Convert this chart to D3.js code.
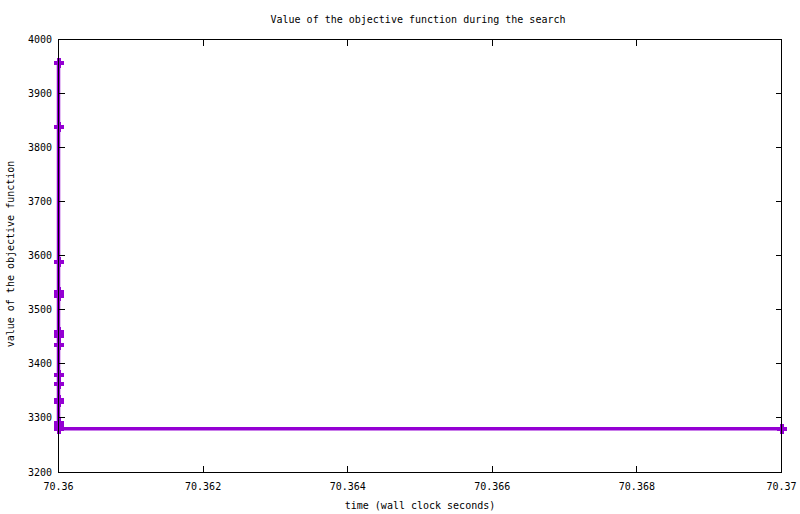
<!DOCTYPE html>
<html>
<head>
<meta charset="utf-8">
<script src="https://cdn.jsdelivr.net/npm/d3@7"></script>
<style>
  body { margin: 0; background: #fff; }
  text { font-family: "DejaVu Sans Mono", monospace; font-size: 10px; fill: #000; }
</style>
</head>
<body>
<div id="chart"></div>
<script>
// objective value over wall-clock time
var times = [70.36, 70.36, 70.36, 70.36, 70.36, 70.36, 70.36, 70.36,
             70.36, 70.36, 70.36, 70.36, 70.36, 70.36, 70.36, 70.37];
var values = [3957, 3839, 3588, 3533, 3525, 3459, 3452, 3435,
              3380, 3363, 3334, 3329, 3290, 3283, 3280, 3280];
var xTicks = [70.36, 70.362, 70.364, 70.366, 70.368, 70.37];
var yTicks = [3200, 3300, 3400, 3500, 3600, 3700, 3800, 3900, 4000];

const width = 800;
const height = 514;
const margin = { top: 39.5, right: 18.5, bottom: 42, left: 58.5 };
const color = "#9400d3";

const svg = d3.select("#chart")
  .append("svg")
  .attr("width", width)
  .attr("height", height);

var x = d3.scaleLinear()
  .domain([70.36, 70.37])
  .range([margin.left, width - margin.right]);

var y = d3.scaleLinear()
  .domain([3200, 4000])
  .range([height - margin.bottom, margin.top]);

const data = times.map((t, i) => ({ t: t, v: values[i] }));

// data line + plus markers
svg.append("path")
  .datum(data)
  .attr("fill", "none")
  .attr("stroke", color)
  .attr("stroke-width", 3.5)
  .attr("d", d3.line().x(d => x(d.t)).y(d => y(d.v)));

const pts = svg.append("g")
  .attr("stroke", color)
  .attr("stroke-width", 4)
  .attr("shape-rendering", "crispEdges");
pts.selectAll("line.h")
  .data(data)
  .join("line")
  .attr("x1", d => x(d.t) - 5)
  .attr("x2", d => x(d.t) + 5)
  .attr("y1", d => y(d.v))
  .attr("y2", d => y(d.v));
pts.selectAll("line.v")
  .data(data)
  .join("line")
  .attr("x1", d => x(d.t))
  .attr("x2", d => x(d.t))
  .attr("y1", d => y(d.v) - 5)
  .attr("y2", d => y(d.v) + 5);

// axes, gnuplot style: inward ticks, mirrored
const tick = 6;
const axes = svg.append("g")
  .attr("stroke", "#000")
  .attr("stroke-width", 1)
  .attr("shape-rendering", "crispEdges");

axes.selectAll("line.xb")
  .data(xTicks)
  .join("line")
  .attr("x1", d => x(d)).attr("x2", d => x(d))
  .attr("y1", y.range()[0]).attr("y2", y.range()[0] - tick);
axes.selectAll("line.xt")
  .data(xTicks)
  .join("line")
  .attr("x1", d => x(d)).attr("x2", d => x(d))
  .attr("y1", y.range()[1]).attr("y2", y.range()[1] + tick);
axes.selectAll("line.yl")
  .data(yTicks)
  .join("line")
  .attr("x1", x.range()[0]).attr("x2", x.range()[0] + tick)
  .attr("y1", d => y(d)).attr("y2", d => y(d));
axes.selectAll("line.yr")
  .data(yTicks)
  .join("line")
  .attr("x1", x.range()[1]).attr("x2", x.range()[1] - tick)
  .attr("y1", d => y(d)).attr("y2", d => y(d));

axes.append("rect")
  .attr("x", x.range()[0])
  .attr("y", y.range()[1])
  .attr("width", x.range()[1] - x.range()[0])
  .attr("height", y.range()[0] - y.range()[1])
  .attr("fill", "none");

svg.selectAll("text.xl")
  .data(xTicks)
  .join("text")
  .attr("x", d => x(d))
  .attr("y", y.range()[0] + 18)
  .attr("text-anchor", "middle")
  .text(d => d3.format("")(+d.toFixed(3)));

svg.selectAll("text.yl")
  .data(yTicks)
  .join("text")
  .attr("x", x.range()[0] - 6.5)
  .attr("y", d => y(d))
  .attr("dy", "0.35em")
  .attr("text-anchor", "end")
  .text(d => d);

// titles
svg.append("text")
  .attr("x", 418)
  .attr("y", 23)
  .attr("text-anchor", "middle")
  .text("Value of the objective function during the search");

svg.append("text")
  .attr("x", 420)
  .attr("y", 509)
  .attr("text-anchor", "middle")
  .text("time (wall clock seconds)");

svg.append("text")
  .attr("transform", "translate(14,254) rotate(-90)")
  .attr("text-anchor", "middle")
  .text("value of the objective function");
</script>
</body>
</html>
